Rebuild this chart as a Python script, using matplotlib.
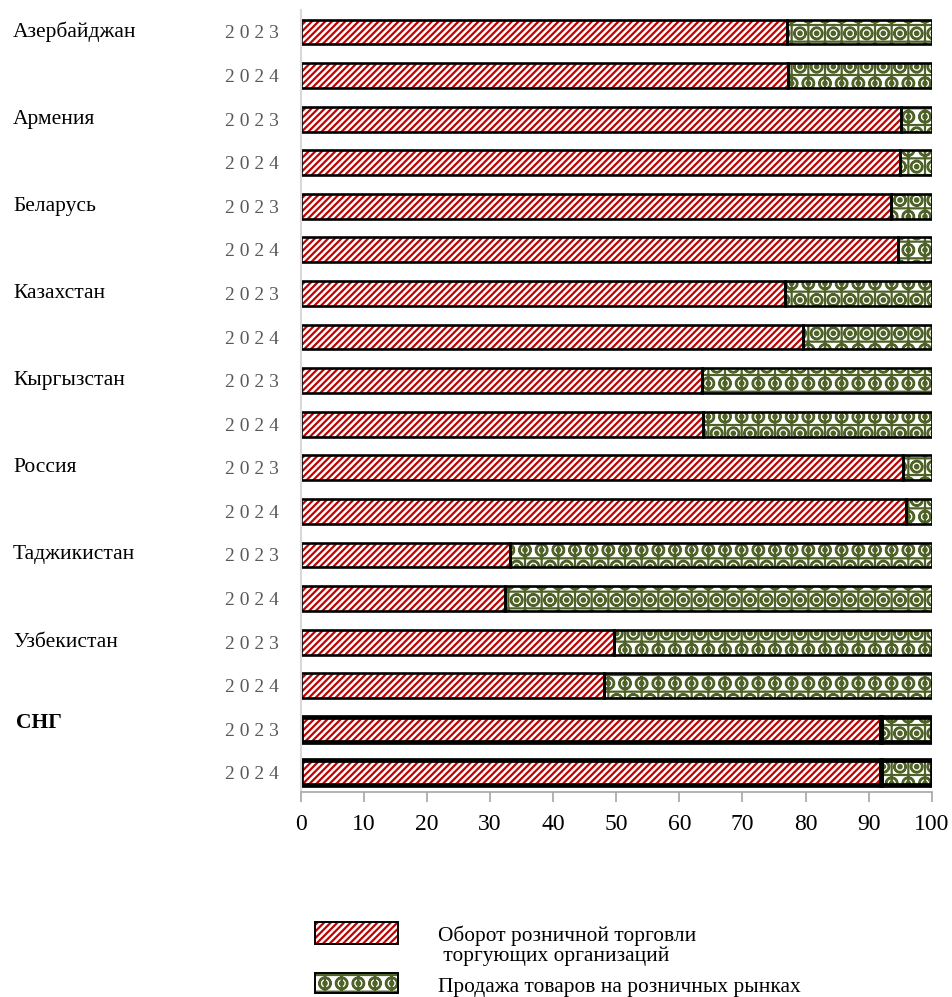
import numpy as np
import matplotlib.pyplot as plt
from matplotlib.patches import Rectangle
from matplotlib.transforms import blended_transform_factory

plt.rcParams['font.family'] = ['Liberation Serif', 'DejaVu Serif']
plt.rcParams['hatch.linewidth'] = 1.6

# данные (доли в %)
countries = ['Азербайджан', 'Армения', 'Беларусь', 'Казахстан', 'Кыргызстан',
             'Россия', 'Таджикистан', 'Узбекистан', 'СНГ']
years = ['2023', '2024']
oborot = [77.1, 77.2, 95.1, 94.9, 93.6, 94.7, 76.7, 79.6, 63.6, 63.8,
          95.5, 96.0, 33.2, 32.4, 49.7, 48.1, 91.9, 91.9]
rynki = [22.9, 22.8, 4.9, 5.1, 6.4, 5.3, 23.3, 20.4, 36.4, 36.2,
         4.5, 4.0, 66.8, 67.6, 50.3, 51.9, 8.1, 8.1]
leg_labels = ['Оборот розничной торговли\n торгующих организаций',
              'Продажа товаров на розничных рынках']

RED = '#C00000'
GREEN = '#4F6228'
H_RED = '/////'
H_GREEN = 'O.+'

fig = plt.figure(figsize=(9.52, 9.97), dpi=100)
ax = fig.add_axes([0.3159, 0.2056, 0.6628, 0.7844])

n = len(oborot)
y = np.arange(n)
h = 0.57
lw = [1.9] * (n - 2) + [3.4] * 2

# заливки
ax.barh(y, oborot, height=h, color='white', edgecolor=RED, hatch=H_RED, linewidth=0)
ax.barh(y, rynki, left=oborot, height=h, color='white', edgecolor=GREEN, hatch=H_GREEN, linewidth=0)
# контуры
ax.barh(y, oborot, height=h, fill=False, edgecolor='black', linewidth=lw)
ax.barh(y, rynki, left=oborot, height=h, fill=False, edgecolor='black', linewidth=lw)

ax.set_xlim(0, 100)
ax.set_ylim(n - 1 + 0.44, -0.505)
ax.set_xticks(np.arange(0, 101, 10))
ax.tick_params(axis='x', labelsize=17, length=7, width=1.2, color='#A6A6A6', pad=9)
ax.set_yticks(y, [' '.join(years[i % 2]) for i in range(n)])
ax.tick_params(axis='y', length=0, pad=16, labelsize=14, labelcolor='#595959')

for s in ['top', 'right']:
    ax.spines[s].set_visible(False)
ax.spines['bottom'].set_color('#A6A6A6')
ax.spines['bottom'].set_linewidth(1.2)
ax.spines['left'].set_color('#D9D9D9')
ax.spines['left'].set_linewidth(1.5)

# названия стран
tr = blended_transform_factory(fig.transFigure, ax.transData)
for i, c in enumerate(countries):
    bold = c == 'СНГ'
    ax.text(16 / 952 if bold else 13 / 952, 2 * i - (0.15 if bold else 0), c,
            transform=tr, ha='left', va='center', fontsize=15.5,
            fontweight='bold' if bold else 'normal', clip_on=False)

# легенда
fig.add_artist(Rectangle((315 / 952, 1 - 944 / 997), 83 / 952, 22 / 997,
                         transform=fig.transFigure, facecolor='white',
                         edgecolor=RED, hatch=H_RED, linewidth=0))
fig.add_artist(Rectangle((315 / 952, 1 - 944 / 997), 83 / 952, 22 / 997,
                         transform=fig.transFigure, fill=False,
                         edgecolor='black', linewidth=1.4))
fig.add_artist(Rectangle((315 / 952, 1 - 993 / 997), 83 / 952, 20 / 997,
                         transform=fig.transFigure, facecolor='white',
                         edgecolor=GREEN, hatch=H_GREEN, linewidth=0))
fig.add_artist(Rectangle((315 / 952, 1 - 993 / 997), 83 / 952, 20 / 997,
                         transform=fig.transFigure, fill=False,
                         edgecolor='black', linewidth=1.4))
fig.text(438 / 952, 1 - 946 / 997, leg_labels[0], ha='left', va='center',
         fontsize=15.4, linespacing=1.05)
fig.text(438 / 952, 1 - 987 / 997, leg_labels[1], ha='left', va='center',
         fontsize=15.4)

fig.savefig('out.png', dpi=100)
